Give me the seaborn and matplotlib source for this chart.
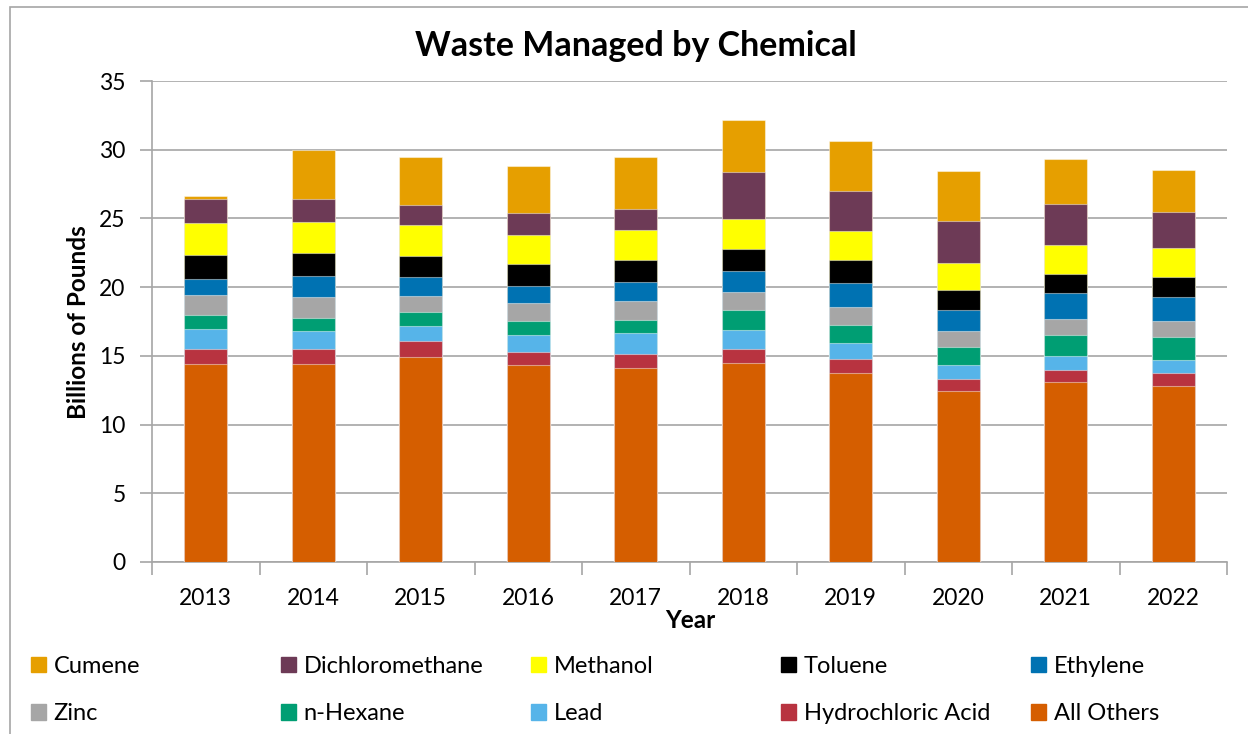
import matplotlib.pyplot as plt
import matplotlib.patches as mpatches
import pandas as pd
import seaborn as sns

# Data (billions of pounds)
years = ['2013', '2014', '2015', '2016', '2017', '2018', '2019', '2020', '2021', '2022']

all_others = [14.39, 14.39, 14.94, 14.32, 14.10, 14.48, 13.73, 12.45, 13.08, 12.81]
hydrochloric_acid = [1.14, 1.14, 1.14, 0.99, 1.06, 1.05, 1.04, 0.87, 0.92, 0.92]
lead = [1.43, 1.26, 1.07, 1.21, 1.51, 1.38, 1.17, 1.00, 1.01, 0.99]
n_hexane = [1.02, 0.99, 1.07, 1.04, 0.97, 1.45, 1.31, 1.35, 1.53, 1.68]
zinc = [1.45, 1.53, 1.16, 1.27, 1.36, 1.29, 1.31, 1.14, 1.12, 1.16]
ethylene = [1.17, 1.51, 1.36, 1.26, 1.36, 1.53, 1.75, 1.51, 1.92, 1.73]
toluene = [1.74, 1.67, 1.55, 1.62, 1.64, 1.60, 1.67, 1.48, 1.38, 1.47]
methanol = [2.31, 2.23, 2.24, 2.09, 2.14, 2.21, 2.11, 1.94, 2.09, 2.07]
dichloromethane = [1.77, 1.72, 1.45, 1.58, 1.57, 3.42, 2.93, 3.08, 3.03, 2.62]
cumene = [0.22, 3.56, 3.47, 3.44, 3.79, 3.74, 3.62, 3.64, 3.23, 3.10]

# stacking order, bottom to top
chemicals = ['All Others', 'Hydrochloric Acid', 'Lead', 'n-Hexane', 'Zinc',
             'Ethylene', 'Toluene', 'Methanol', 'Dichloromethane', 'Cumene']
colors = {'All Others': '#D55E00', 'Hydrochloric Acid': '#B83340',
          'Lead': '#56B4E9', 'n-Hexane': '#009E73', 'Zinc': '#A6A6A6',
          'Ethylene': '#0072B2', 'Toluene': '#000000', 'Methanol': '#FFFF00',
          'Dichloromethane': '#6D3A56', 'Cumene': '#E69F00'}

data = pd.DataFrame({'Year': years,
                     'All Others': all_others,
                     'Hydrochloric Acid': hydrochloric_acid,
                     'Lead': lead,
                     'n-Hexane': n_hexane,
                     'Zinc': zinc,
                     'Ethylene': ethylene,
                     'Toluene': toluene,
                     'Methanol': methanol,
                     'Dichloromethane': dichloromethane,
                     'Cumene': cumene})

# cumulative totals so overlapping bars look stacked
cum = data[chemicals].cumsum(axis=1)
cum['Year'] = data.Year

sns.set_style('white')
plt.rcParams['font.family'] = ['Lato', 'DejaVu Sans']
plt.rcParams['text.color'] = 'black'
plt.rcParams['xtick.color'] = 'black'
plt.rcParams['ytick.color'] = 'black'

fig = plt.figure(figsize=(12.48, 7.34), dpi=100)
ax = fig.add_axes([152 / 1248, 1 - 562 / 734, (1227 - 152) / 1248, (562 - 81) / 734])

grid_color = '#A6A6A6'
for chem in reversed(chemicals):
    sns.barplot(data=cum, x='Year', y=chem, color=colors[chem], width=0.4,
                saturation=1, edgecolor=(1, 1, 1, 0.45), linewidth=0.8,
                ax=ax, zorder=3)

ax.set_xlim(-0.5, len(years) - 0.5)
ax.set_ylim(0, 35)
ax.set_yticks(range(0, 36, 5))
ax.yaxis.grid(True, color=grid_color, linewidth=1.2, zorder=0)
ax.set_axisbelow(True)

ax.set_xticks(range(len(years)))
ax.set_xticklabels(years)
ax.set_xticks([i - 0.5 for i in range(len(years) + 1)], minor=True)
ax.tick_params(axis='x', which='major', length=0, pad=19, labelsize=16.5,
               labelcolor='black')
ax.tick_params(axis='x', which='minor', length=9, width=1.2, color=grid_color,
               direction='out', bottom=True)
ax.tick_params(axis='y', length=9, width=1.2, color=grid_color, pad=10,
               labelsize=16.5, labelcolor='black', direction='out', left=True)

for side in ['top', 'right']:
    ax.spines[side].set_visible(False)
for side in ['left', 'bottom']:
    ax.spines[side].set_color(grid_color)
    ax.spines[side].set_linewidth(1.2)

ax.set_xlabel('')
ax.set_ylabel('')
fig.text(690 / 1248, 1 - 620 / 734, 'Year', ha='center', va='center',
         fontsize=17.5, fontweight='bold')
fig.text(78 / 1248, 1 - 322 / 734, 'Billions of Pounds', ha='center',
         va='center', rotation=90, fontsize=17.5, fontweight='bold')
fig.text(636 / 1248, 1 - 46 / 734, 'Waste Managed by Chemical', ha='center',
         va='center', fontsize=24.5, fontweight='bold')

# outer chart frame
fig.patches.append(mpatches.Rectangle((10 / 1248, -0.05), 1.0, 1 - 7 / 734 + 0.05,
                                      transform=fig.transFigure, fill=False,
                                      edgecolor=grid_color, linewidth=1.2))

# legend: five columns, two rows, evenly spaced like the original
legend_cols = [('Cumene', 'Zinc'), ('Dichloromethane', 'n-Hexane'),
               ('Methanol', 'Lead'), ('Toluene', 'Hydrochloric Acid'),
               ('Ethylene', 'All Others')]
for i, (top, bottom) in enumerate(legend_cols):
    x = 31 + 250 * i
    handles = [mpatches.Patch(color=colors[top], label=top),
               mpatches.Patch(color=colors[bottom], label=bottom)]
    fig.legend(handles=handles, loc='center left',
               bbox_to_anchor=(x / 1248, 1 - 690 / 734), frameon=False,
               fontsize=17, handlelength=0.64, handleheight=0.64,
               handletextpad=0.32, labelspacing=1.12, borderpad=0,
               borderaxespad=0, labelcolor='black')

fig.savefig('out.png', dpi=100)
